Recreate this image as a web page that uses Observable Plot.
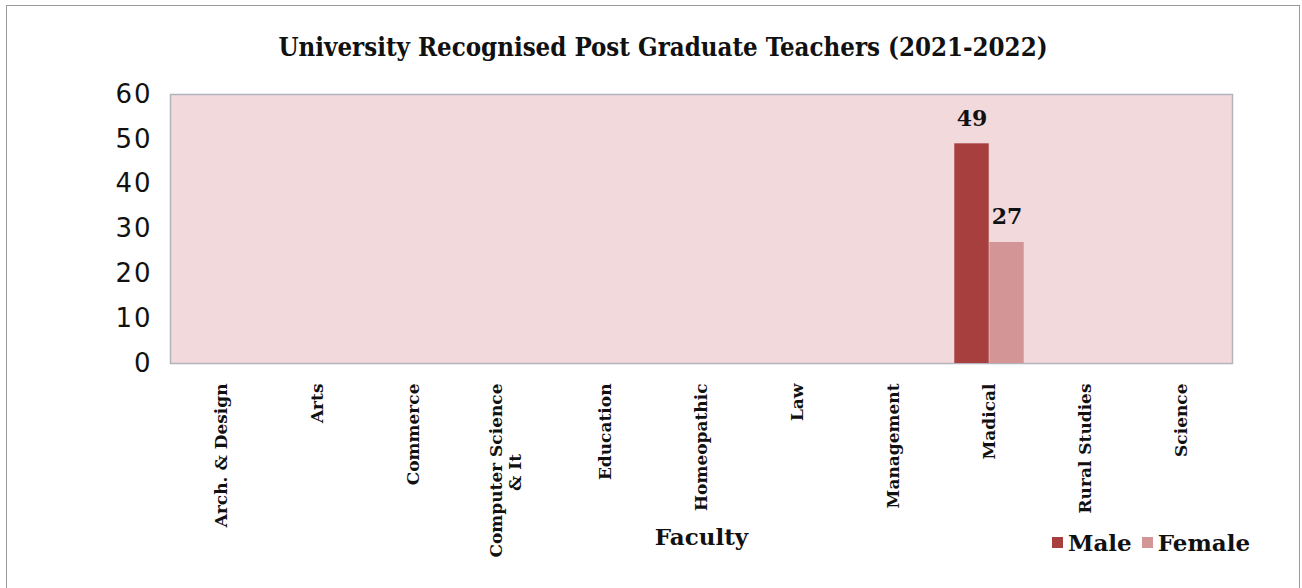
<!DOCTYPE html>
<html>
<head>
<meta charset="utf-8">
<script src="https://cdn.jsdelivr.net/npm/d3@7"></script>
<script src="https://cdn.jsdelivr.net/npm/@observablehq/plot@0.6"></script>
<style>
  body { margin: 0; background: #ffffff; }
  #wrap { position: relative; width: 1302px; height: 588px; overflow: hidden; font-family: "DejaVu Serif", serif; }
  #border { position: absolute; left: 6px; top: 5px; width: 1294px; height: 620px; border: 1.5px solid #9a9a9a; box-sizing: border-box; }
  #title { position: absolute; left: 0; width: 1326px; top: 32px; text-align: center; font-weight: bold; font-size: 25.6px; font-family: "DejaVu Serif Condensed", "DejaVu Serif", serif; font-stretch: condensed; color: #111; }
  #chart { position: absolute; left: 0; top: 0; }
  #legend { position: absolute; left: 1052px; top: 529px; display: flex; align-items: center; font-weight: bold; font-size: 23px; color: #111; }
  #legend .item { display: flex; align-items: center; margin-right: 10px; }
  #legend .sw { width: 11px; height: 11px; margin-right: 5px; }
  g[aria-label="x-axis label"] text { font-size: 23px; font-weight: bold; }
  g[aria-label="y-axis tick label"] text { letter-spacing: 2px; }
</style>
</head>
<body>
<div id="wrap">
  <div id="border"></div>
  <div id="title"></div>
  <div id="chart"></div>
  <div id="legend"></div>
</div>
<script>
const titleText = "University Recognised Post Graduate Teachers (2021-2022)";
const faculties = ["Arch. & Design", "Arts", "Commerce", "Computer Science\n& It", "Education", "Homeopathic", "Law", "Management", "Madical", "Rural Studies", "Science"];
const maleValues = [0, 0, 0, 0, 0, 0, 0, 0, 49, 0, 0];
const femaleValues = [0, 0, 0, 0, 0, 0, 0, 0, 27, 0, 0];
const seriesNames = ["Male", "Female"];
const seriesColors = ["#a83f3f", "#d49597"];
const yTicks = [0, 10, 20, 30, 40, 50, 60];

const maleData = faculties.map((f, i) => ({faculty: f, series: "Male", value: maleValues[i]}));
const femaleData = faculties.map((f, i) => ({faculty: f, series: "Female", value: femaleValues[i]}));
const wrapped = faculties.filter(d => d.includes("\n"));

document.getElementById("title").textContent = titleText;

const W = 1302, H = 588;
const mL = 170, mR = 70, mT = 94, mB = 225;
const band = (W - mL - mR) / faculties.length;
const barW = 35;
const tickFont = {fontSize: 17, fontWeight: "bold", fill: "#111"};

const chart = Plot.plot({
  width: W,
  height: H,
  marginLeft: mL,
  marginRight: mR,
  marginTop: mT,
  marginBottom: mB,
  style: {background: "transparent", fontFamily: "DejaVu Serif, serif", color: "#111", overflow: "visible"},
  x: {domain: faculties, padding: 0},
  y: {domain: [0, 60]},
  marks: [
    Plot.frame({fill: "#f2dadc", stroke: "#b3b3bb", strokeWidth: 1.5}),
    Plot.barY(maleData, {x: "faculty", y: "value", fill: seriesColors[0], insetLeft: band / 2 - barW, insetRight: band / 2}),
    Plot.barY(femaleData, {x: "faculty", y: "value", fill: seriesColors[1], insetLeft: band / 2, insetRight: band / 2 - barW}),
    Plot.text(maleData.filter(d => d.value > 0), {x: "faculty", y: "value", text: d => String(d.value), dx: -barW / 2, dy: -25, fontSize: 22, fontWeight: "bold", fill: "#111"}),
    Plot.text(femaleData.filter(d => d.value > 0), {x: "faculty", y: "value", text: d => String(d.value), dx: barW / 2, dy: -25, fontSize: 22, fontWeight: "bold", fill: "#111"}),
    Plot.axisY({ticks: yTicks, tickSize: 0, tickPadding: 18, fontSize: 26, fontFamily: "DejaVu Sans, sans-serif", label: null}),
    Plot.axisX({tickSize: 0, tickRotate: -90, tickPadding: 20, ...tickFont, tickFormat: d => d.includes("\n") ? "" : d, label: "Faculty", labelAnchor: "center", labelArrow: "none", labelOffset: 181}),
    // wrapped category label: first line hangs from the axis, second line centred under it
    Plot.text(wrapped, {x: d => d, text: d => d.split("\n")[0], frameAnchor: "bottom", rotate: -90, textAnchor: "end", dx: -8, dy: 20, ...tickFont}),
    Plot.text(wrapped, {x: d => d, text: d => d.split("\n")[1], frameAnchor: "bottom", rotate: -90, textAnchor: "middle", dx: 11, dy: 109, ...tickFont})
  ]
});
document.getElementById("chart").appendChild(chart);

const legend = document.getElementById("legend");
seriesNames.forEach((name, i) => {
  const item = document.createElement("div");
  item.className = "item";
  const sw = document.createElement("span");
  sw.className = "sw";
  sw.style.background = seriesColors[i];
  const t = document.createElement("span");
  t.textContent = name;
  item.appendChild(sw);
  item.appendChild(t);
  legend.appendChild(item);
});
</script>
</body>
</html>
